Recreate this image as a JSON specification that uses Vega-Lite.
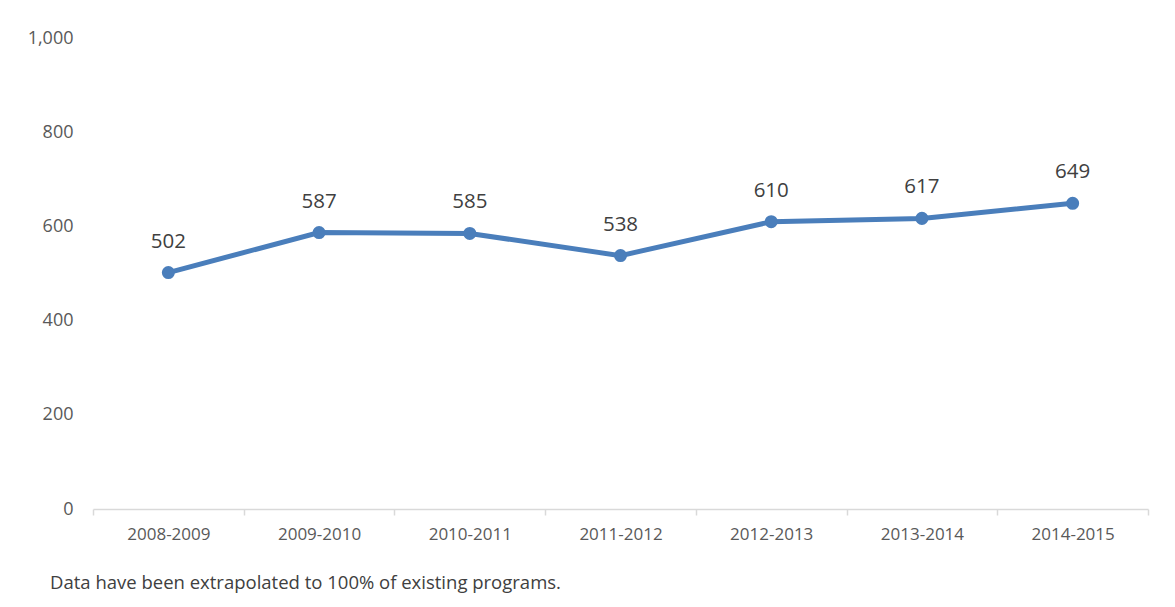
{
  "$schema": "https://vega.github.io/schema/vega-lite/v6.json",
  "width": 1055,
  "height": 471,
  "autosize": "none",
  "padding": {"left": 93, "top": 38, "right": 27, "bottom": 98},
  "background": "white",
  "config": {"view": {"stroke": null}, "font": "Open Sans"},
  "title": {
    "text": "Data have been extrapolated to 100% of existing programs.",
    "orient": "bottom",
    "anchor": "start",
    "frame": "group",
    "dx": -43,
    "offset": 32,
    "fontSize": 18.5,
    "fontWeight": "normal",
    "color": "#404040",
    "font": "Open Sans"
  },
  "data": {
    "values": [
      {"year": "2008-2009", "value": 502},
      {"year": "2009-2010", "value": 587},
      {"year": "2010-2011", "value": 585},
      {"year": "2011-2012", "value": 538},
      {"year": "2012-2013", "value": 610},
      {"year": "2013-2014", "value": 617},
      {"year": "2014-2015", "value": 649}
    ]
  },
  "encoding": {
    "x": {
      "field": "year",
      "type": "ordinal",
      "sort": null,
      "scale": {"type": "band", "paddingInner": 0, "paddingOuter": 0},
      "axis": {
        "title": null,
        "labelAngle": 0,
        "labelFontSize": 17,
        "labelColor": "#595959",
        "labelPadding": 11,
        "domainColor": "#d9d9d9",
        "domainWidth": 1.5,
        "tickColor": "#d9d9d9",
        "tickWidth": 1.5,
        "tickSize": 6,
        "tickBand": "extent",
        "grid": false
      }
    },
    "y": {
      "field": "value",
      "type": "quantitative",
      "scale": {"domain": [0, 1000]},
      "axis": {
        "title": null,
        "values": [0, 200, 400, 600, 800, 1000],
        "format": ",.0f",
        "labelFontSize": 18,
        "labelColor": "#595959",
        "labelPadding": 20,
        "domain": false,
        "ticks": false,
        "grid": false
      }
    }
  },
  "layer": [
    {
      "mark": {"type": "line", "color": "#4a7ebb", "strokeWidth": 5, "point": {"filled": true, "size": 170, "color": "#4a7ebb", "opacity": 1}}
    },
    {
      "mark": {"type": "text", "dy": -31, "fontSize": 20.5, "color": "#404040", "font": "Open Sans"},
      "encoding": {"text": {"field": "value", "type": "quantitative"}}
    }
  ]
}
